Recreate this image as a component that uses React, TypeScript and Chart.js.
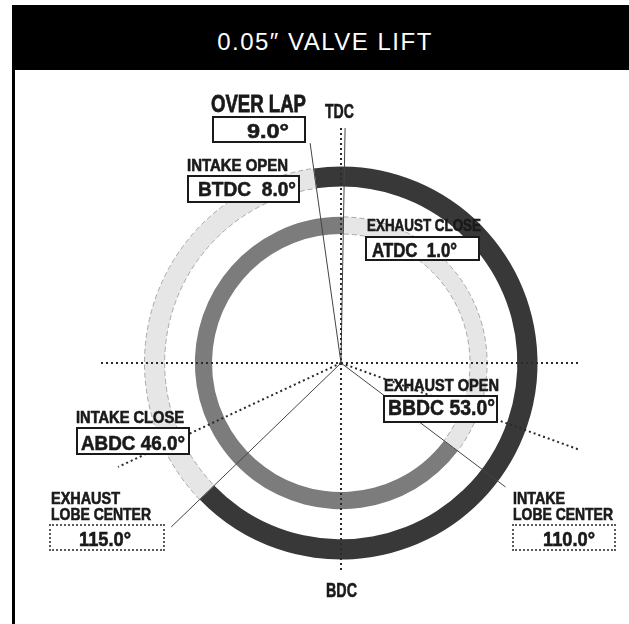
import React, { useEffect, useRef } from "react";
import { Chart, registerables } from "chart.js";
Chart.register(...registerables);

// ---------- data ----------
const titleText = "0.05″ VALVE LIFT";
const eventNames = ["INTAKE OPEN", "INTAKE CLOSE", "EXHAUST OPEN", "EXHAUST CLOSE"];
const eventRefs = ["BTDC", "ABDC", "BBDC", "ATDC"];
const eventDegrees = [8.0, 46.0, 53.0, 1.0];
const lobeNames = ["INTAKE", "EXHAUST"];
const lobeRefs = ["ATDC", "BTDC"];
const lobeCenterDegrees = [110.0, 115.0];
const overlapDegrees = 9.0;
const axisLabels = ["TDC", "BDC"];

// ---------- helpers ----------
function crankAngle(ref: string, deg: number): number {
  if (ref === "BTDC") return (360 - deg) % 360;
  if (ref === "ATDC") return deg % 360;
  if (ref === "BBDC") return 180 - deg;
  return 180 + deg; // ABDC
}
const intakeStart = crankAngle(eventRefs[0], eventDegrees[0]);
const intakeEnd = crankAngle(eventRefs[1], eventDegrees[1]);
const exhaustStart = crankAngle(eventRefs[2], eventDegrees[2]);
const exhaustEnd = crankAngle(eventRefs[3], eventDegrees[3]);
const intakeDuration = (intakeEnd - intakeStart + 360) % 360;
const exhaustDuration = (exhaustEnd - exhaustStart + 360) % 360;

// ---------- styles / layout ----------
const DARK = "#383838";
const MID = "#7c7c7c";
const LIGHT = "#e6e6e6";
const DASH = "#a8a8a8";
const INK = "#1a1a1a";
const LABEL_FONT = '"Liberation Sans", Arial, sans-serif';
const CANVAS = 560;
const CANVAS_LEFT = 61;
const CANVAS_TOP = 83;
const HALF = CANVAS / 2;
// line lengths (px) for each event / lobe line
const eventLineLen = [222, 236, 206, 235];
const lobeLineLen = [252, 246];
const axisExtent = { left: 240, right: 238, top: 235, bottom: 207 };

function polar(thetaDeg: number, r: number) {
  const t = (thetaDeg * Math.PI) / 180;
  return { x: r * Math.sin(t), y: r * Math.cos(t) };
}

let measureCtx: CanvasRenderingContext2D | null = null;
function measure(text: string, font: string): number {
  if (!measureCtx) measureCtx = document.createElement("canvas").getContext("2d");
  measureCtx!.font = font;
  return measureCtx!.measureText(text).width;
}

function Txt(props: { x: number; base: number; size: number; text: string; w?: number; color?: string; weight?: number; family?: string; spacing?: number; center?: boolean; width?: number; stroke?: number }) {
  const { x, base, size, text, w, color = INK, weight = 700, family = LABEL_FONT, spacing = 0, center = false, width, stroke = 0.6 } = props;
  let scale = 1;
  if (w) {
    const m = measure(text, `${weight} ${size}px ${family}`);
    if (m > 0) scale = w / m;
  }
  return (
    <div
      style={{
        position: "absolute",
        left: x,
        top: base - 0.8465 * size,
        width: width,
        fontSize: size,
        lineHeight: `${size}px`,
        fontFamily: family,
        fontWeight: weight,
        color,
        whiteSpace: "pre",
        letterSpacing: spacing,
        textAlign: center ? "center" : "left",
        transform: scale !== 1 ? `scaleX(${scale})` : undefined,
        transformOrigin: "left top",
        WebkitTextStroke: stroke > 0 ? `${stroke}px ${color}` : undefined,
      }}
    >
      {text}
    </div>
  );
}

function Box(props: { x: number; y: number; w: number; h: number; dotted?: boolean }) {
  const { x, y, w, h, dotted } = props;
  return (
    <div
      style={{
        position: "absolute",
        left: x,
        top: y,
        width: w,
        height: h,
        boxSizing: "border-box",
        background: "#fff",
        border: dotted ? "2px dotted #5a5a5a" : `2px solid ${INK}`,
      }}
    />
  );
}

function fmtEvent(i: number) {
  const d = eventDegrees[i];
  return `${eventRefs[i]}${d < 10 ? "  " : " "}${d.toFixed(1)}°`;
}

export default function App() {
  const ringRef = useRef<HTMLCanvasElement | null>(null);
  const lineRef = useRef<HTMLCanvasElement | null>(null);

  useEffect(() => {
    const pad = (CANVAS - 394) / 2;
    const ring = new Chart(ringRef.current!, {
      type: "doughnut",
      data: {
        labels: ["open", "closed"],
        datasets: [
          {
            data: [intakeDuration, 360 - intakeDuration],
            rotation: intakeStart,
            backgroundColor: [DARK, LIGHT],
            borderColor: [DARK, DASH],
            borderWidth: [0, 1],
            borderDash: (ctx: any) => (ctx.dataIndex === 1 ? [5, 3] : []),
            weight: 20,
          } as any,
          {
            data: [360],
            backgroundColor: "rgba(0,0,0,0)",
            borderWidth: 0,
            weight: 30,
          } as any,
          {
            data: [exhaustDuration, 360 - exhaustDuration],
            rotation: exhaustStart,
            backgroundColor: [MID, LIGHT],
            borderColor: [MID, DASH],
            borderWidth: [0, 1],
            borderDash: (ctx: any) => (ctx.dataIndex === 1 ? [5, 3] : []),
            weight: 17,
          } as any,
        ],
      },
      options: {
        responsive: false,
        animation: false,
        devicePixelRatio: 1,
        events: [],
        cutout: 129,
        layout: { padding: pad },
        plugins: { legend: { display: false }, tooltip: { enabled: false } },
      } as any,
    });

    const evAngles = eventRefs.map((r, i) => crankAngle(r, eventDegrees[i]));
    const lobeAngles = lobeRefs.map((r, i) => crankAngle(r, lobeCenterDegrees[i]));
    const dotted = { borderColor: "#2a2a2a", borderWidth: 2, borderDash: [2, 3], pointRadius: 0, showLine: true };
    const solid = { borderColor: "#444", borderWidth: 1, pointRadius: 0, showLine: true };
    const datasets: any[] = [
      { ...dotted, data: [{ x: -axisExtent.left, y: 0 }, { x: axisExtent.right, y: 0 }] },
      { ...dotted, data: [{ x: 0, y: axisExtent.top }, { x: 0, y: -axisExtent.bottom }] },
      ...lobeAngles.map((a, i) => ({ ...dotted, data: [{ x: 0, y: 0 }, polar(a, lobeLineLen[i])] })),
      ...evAngles.map((a, i) => ({ ...solid, data: [{ x: 0, y: 0 }, polar(a, eventLineLen[i])] })),
    ];
    const lines = new Chart(lineRef.current!, {
      type: "scatter",
      data: { datasets },
      options: {
        responsive: false,
        animation: false,
        devicePixelRatio: 1,
        events: [],
        layout: { padding: 0 },
        scales: {
          x: { type: "linear", min: -HALF, max: HALF, display: false },
          y: { type: "linear", min: -HALF, max: HALF, display: false },
        },
        plugins: { legend: { display: false }, tooltip: { enabled: false } },
      } as any,
    });
    return () => {
      ring.destroy();
      lines.destroy();
    };
  }, []);

  const canvasStyle: React.CSSProperties = {
    position: "absolute",
    left: CANVAS_LEFT,
    top: CANVAS_TOP,
    width: CANVAS,
    height: CANVAS,
  };

  return (
    <div style={{ position: "absolute", left: 0, top: 0, width: 629, height: 624, overflow: "hidden", background: "#fff" }}>
      <div style={{ position: "absolute", left: 12, top: 5, width: 617, height: 65, background: "#000" }} />
      <div style={{ position: "absolute", left: 12, top: 5, width: 3, height: 619, background: "#000" }} />
      <Txt x={12} width={626} center base={50} size={24} weight={400} color="#fff" spacing={1.5} stroke={0} text={titleText} />

      <canvas ref={ringRef} width={CANVAS} height={CANVAS} style={canvasStyle} />
      <canvas ref={lineRef} width={CANVAS} height={CANVAS} style={canvasStyle} />

      {/* axis labels */}
      <Txt x={325} base={118} size={21} w={29} text={axisLabels[0]} />
      <Txt x={326} base={597} size={21} w={31} text={axisLabels[1]} />

      {/* overlap */}
      <Txt x={211} base={112} size={24} w={95} stroke={0.8} text="OVER LAP" />
      <Box x={212} y={116} w={94} h={27} />
      <Txt x={247} base={138} size={21} w={42} text={`${overlapDegrees.toFixed(1)}°`} />

      {/* intake open */}
      <Txt x={187} base={172} size={16} w={101} text={eventNames[0]} />
      <Box x={187} y={175} w={113} h={28} />
      <Txt x={198} base={196} size={21} w={98} text={fmtEvent(0)} />

      {/* exhaust close */}
      <Txt x={367} base={232} size={16} w={114} text={eventNames[3]} />
      <Box x={365} y={236} w={115} h={25} />
      <Txt x={372} base={257} size={20} w={85} text={fmtEvent(3)} />

      {/* exhaust open */}
      <Txt x={384} base={392} size={16} w={115} text={eventNames[2]} />
      <Box x={383} y={395} w={115} h={28} />
      <Txt x={388} base={416} size={22} w={107} text={fmtEvent(2)} />

      {/* intake close */}
      <Txt x={76} base={424} size={16} w={108} text={eventNames[1]} />
      <Box x={76} y={427} w={114} h={28} />
      <Txt x={81} base={450} size={21} w={104} text={fmtEvent(1)} />

      {/* exhaust lobe center */}
      <Txt x={51} base={505} size={16} w={69} text={lobeNames[1]} />
      <Txt x={51} base={521} size={16} w={100} text="LOBE CENTER" />
      <Box x={49} y={524} w={116} h={27} dotted />
      <Txt x={79} base={546} size={21} w={52} text={`${lobeCenterDegrees[1].toFixed(1)}°`} />

      {/* intake lobe center */}
      <Txt x={513} base={505} size={16} w={52} text={lobeNames[0]} />
      <Txt x={513} base={521} size={16} w={100} text="LOBE CENTER" />
      <Box x={512} y={524} w={104} h={27} dotted />
      <Txt x={543} base={546} size={21} w={52} text={`${lobeCenterDegrees[0].toFixed(1)}°`} />
    </div>
  );
}
